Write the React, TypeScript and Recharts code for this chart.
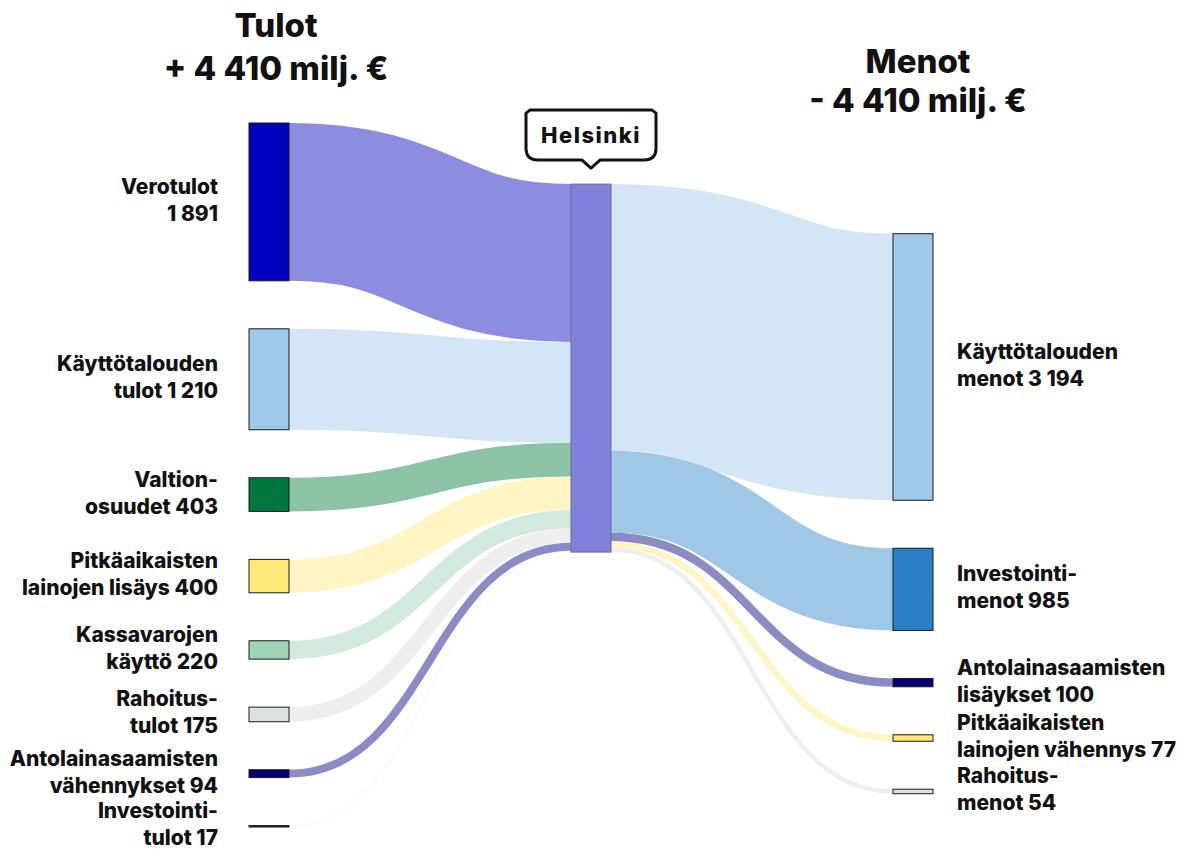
import { Sankey } from "recharts";

// Tulot (vasen sarake) – arvot milj. €
const incomeNames = [
  "Verotulot",
  "Käyttötalouden tulot",
  "Valtionosuudet",
  "Pitkäaikaisten lainojen lisäys",
  "Kassavarojen käyttö",
  "Rahoitustulot",
  "Antolainasaamisten vähennykset",
  "Investointitulot",
];
const incomeLabels = [
  ["Verotulot", "1 891"],
  ["Käyttötalouden", "tulot 1 210"],
  ["Valtion-", "osuudet 403"],
  ["Pitkäaikaisten", "lainojen lisäys 400"],
  ["Kassavarojen", "käyttö 220"],
  ["Rahoitus-", "tulot 175"],
  ["Antolainasaamisten", "vähennykset 94"],
  ["Investointi-", "tulot 17"],
];
const incomeValues = [1891, 1210, 403, 400, 220, 175, 94, 17];
const incomeNodeColors = [
  "#0000bf",
  "#9fc9ea",
  "#00773d",
  "#ffe878",
  "#9fd4b4",
  "#dedfe0",
  "#000073",
  "#1e2b3c",
];
const incomeLinkColors = [
  "#8c8ce0",
  "#d4e5f5",
  "#8cc2a6",
  "#fff4c4",
  "#d2eadd",
  "#eeeeee",
  "#8c8cc4",
  "#f8f8f8",
];

// Menot (oikea sarake)
const expenseNames = [
  "Käyttötalouden menot",
  "Investointimenot",
  "Antolainasaamisten lisäykset",
  "Pitkäaikaisten lainojen vähennys",
  "Rahoitusmenot",
];
const expenseLabels = [
  ["Käyttötalouden", "menot 3 194"],
  ["Investointi-", "menot 985"],
  ["Antolainasaamisten", "lisäykset 100"],
  ["Pitkäaikaisten", "lainojen vähennys 77"],
  ["Rahoitus-", "menot 54"],
];
const expenseValues = [3194, 985, 100, 77, 54];
const expenseNodeColors = ["#9fc9ea", "#2b7fc6", "#000073", "#ffe878", "#dedfe0"];
const expenseLinkColors = ["#d4e5f5", "#9fc7e6", "#8c8cc4", "#fff4c4", "#eeeeee"];

const centerName = "Helsinki";
const centerColor = "#8080dd";

const FONT = "Inter, 'Noto Sans', sans-serif";

const nodes = [
  ...incomeNames.map((name, i) => ({
    name,
    label: incomeLabels[i],
    color: incomeNodeColors[i],
  })),
  { name: centerName, label: [], color: centerColor },
  ...expenseNames.map((name, i) => ({
    name,
    label: expenseLabels[i],
    color: expenseNodeColors[i],
  })),
];
const centerIndex = incomeNames.length;

// pieni investointitulo-linkki ensin, jotta se jää muiden alle
const incomeLinks = incomeValues.map((value, i) => ({
  source: i,
  target: centerIndex,
  value,
  color: incomeLinkColors[i],
}));
const links = [
  incomeLinks[incomeLinks.length - 1],
  ...incomeLinks.slice(0, -1),
  ...expenseValues.map((value, i) => ({
    source: centerIndex,
    target: centerIndex + 1 + i,
    value,
    color: expenseLinkColors[i],
  })),
];

function SankeyNode(props: any) {
  const { x, y, width, height, payload } = props;
  const depth = payload.depth;
  const lines: string[] = payload.label;
  const cy = y + height / 2;

  if (depth === 1) {
    const cx = x + width / 2;
    const tip = y - 16;
    const bottom = tip - 8;
    const top = tip - 58;
    const left = cx - 65;
    const right = cx + 65;
    const bubble = `M${left},${top + 3} L${left + 4},${top} L${right - 4},${top} L${right},${top + 3}
      L${right},${bottom - 12} Q${right},${bottom} ${right - 12},${bottom}
      L${cx + 9},${bottom} L${cx},${tip} L${cx - 9},${bottom}
      L${left + 12},${bottom} Q${left},${bottom} ${left},${bottom - 12} Z`;
    return (
      <g>
        <rect
          x={x}
          y={y}
          width={width}
          height={height}
          fill={payload.color}
          stroke="#6a6a8a"
          strokeWidth={1}
        />
        <path d={bubble} fill="#fff" stroke="#111" strokeWidth={3} strokeLinejoin="round" />
        <text
          x={cx}
          y={(top + bottom) / 2 + 8}
          textAnchor="middle"
          fontFamily={FONT}
          fontWeight={800}
          fontSize={22}
          letterSpacing={1.5}
          fill="#111"
        >
          {centerName}
        </text>
      </g>
    );
  }

  const isLeft = depth === 0;
  const tx = isLeft ? x - 31 : x + width + 24;
  return (
    <g>
      <rect
        x={x}
        y={y}
        width={width}
        height={Math.max(height, 1)}
        fill={payload.color}
        stroke="#1a1a1a"
        strokeWidth={1}
      />
      <text
        x={tx}
        textAnchor={isLeft ? "end" : "start"}
        fontFamily={FONT}
        fontWeight={800}
        fontSize={21}
        fill="#111"
      >
        <tspan x={tx} y={cy - 8}>
          {lines[0]}
        </tspan>
        <tspan x={tx} y={cy + 19}>
          {lines[1]}
        </tspan>
      </text>
    </g>
  );
}

function SankeyLink(props: any) {
  const { sourceX, targetX, sourceY, targetY, sourceControlX, targetControlX, linkWidth, payload } =
    props;
  return (
    <path
      d={`M${sourceX},${sourceY}C${sourceControlX},${sourceY} ${targetControlX},${targetY} ${targetX},${targetY}`}
      fill="none"
      stroke={payload.color}
      strokeWidth={linkWidth}
      strokeOpacity={1}
    />
  );
}

const titleStyle = {
  position: "absolute" as const,
  width: 400,
  textAlign: "center" as const,
  fontFamily: FONT,
  fontWeight: 800,
  fontSize: 33,
  color: "#111",
};

export default function App() {
  return (
    <div
      style={{
        position: "absolute",
        left: 0,
        top: 0,
        width: 1192,
        height: 852,
        background: "#fff",
        overflow: "hidden",
      }}
    >
      <Sankey
        width={1192}
        height={852}
        data={{ nodes, links }}
        margin={{ top: 123, left: 249, right: 259, bottom: 25 }}
        nodeWidth={40}
        nodePadding={48}
        iterations={1}
        sort={false}
        node={SankeyNode}
        link={SankeyLink}
      />
      <div style={{ ...titleStyle, left: 76, top: 4, lineHeight: "43px" }}>
        <div>Tulot</div>
        <div>+ 4 410 milj. €</div>
      </div>
      <div style={{ ...titleStyle, left: 718, top: 42, lineHeight: "39px" }}>
        <div>Menot</div>
        <div>- 4 410 milj. €</div>
      </div>
    </div>
  );
}
